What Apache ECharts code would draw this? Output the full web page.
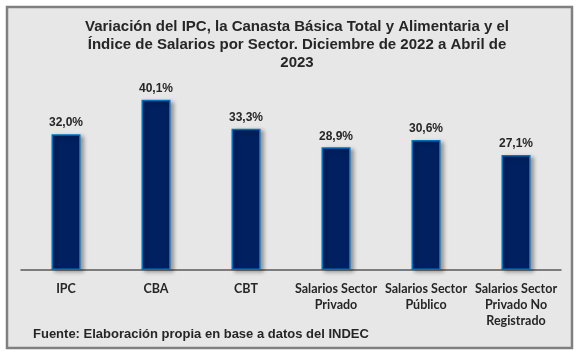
<!DOCTYPE html>
<html>
<head>
<meta charset="utf-8">
<script src="https://cdn.jsdelivr.net/npm/echarts@6/dist/echarts.min.js"></script>
<style>html,body{margin:0;padding:0;background:#fff;}#c{width:582px;height:357px;}</style>
</head>
<body>
<div id="c"></div>
<script>
const categories = ['IPC', 'CBA', 'CBT', 'Salarios Sector\nPrivado', 'Salarios Sector\nPúblico', 'Salarios Sector\nPrivado No\nRegistrado'];
const values = [32.0, 40.1, 33.3, 28.9, 30.6, 27.1];
const titleText = 'Variación del IPC, la Canasta Básica Total y Alimentaria y el\nÍndice de Salarios por Sector. Diciembre de 2022 a Abril de\n2023';
const sourceText = 'Fuente: Elaboración propia en base a datos del INDEC';

const chart = echarts.init(document.getElementById('c'), null, {renderer: 'canvas'});
chart.setOption({
  backgroundColor: '#ffffff',
  animation: false,
  graphic: [
    {type: 'rect', z: -10, shape: {x: 7, y: 7, width: 565, height: 341},
     style: {fill: '#e7e7e7', stroke: '#808080', lineWidth: 2.5}}
  ],
  title: [{
    text: titleText,
    left: 292, top: 13, textAlign: 'center',
    textStyle: {fontFamily: 'Liberation Sans, Arial', fontWeight: 'bold', fontSize: 15, color: '#262626', lineHeight: 18}
  }, {
    text: sourceText,
    left: 28, top: 323,
    textStyle: {fontFamily: 'Liberation Sans, Arial', fontWeight: 'bold', fontSize: 13, color: '#262626'}
  }],
  grid: {left: 21, right: 21, top: 79, bottom: 87},
  xAxis: {
    type: 'category', data: categories,
    axisLine: {lineStyle: {color: '#595959', width: 1.5}},
    axisTick: {show: false},
    axisLabel: {interval: 0, margin: 11, fontFamily: 'Lato', fontWeight: 'bold', fontSize: 12.5, color: '#262626', lineHeight: 16}
  },
  yAxis: {type: 'value', min: 0, max: 45, show: false, splitLine: {show: false}},
  series: [{
    type: 'bar', data: values, barWidth: 29,
    itemStyle: {color: '#002060', borderColor: '#0070c0', borderWidth: 1.5,
      shadowColor: 'rgba(0,0,0,0.35)', shadowBlur: 4, shadowOffsetX: 3, shadowOffsetY: 2},
    label: {show: true, position: 'top', distance: 5,
      formatter: p => p.value.toFixed(1).replace('.', ',') + '%',
      fontFamily: 'Liberation Sans, Arial', fontWeight: 'bold', fontSize: 12, color: '#262626'}
  }]
});
</script>
</body>
</html>
